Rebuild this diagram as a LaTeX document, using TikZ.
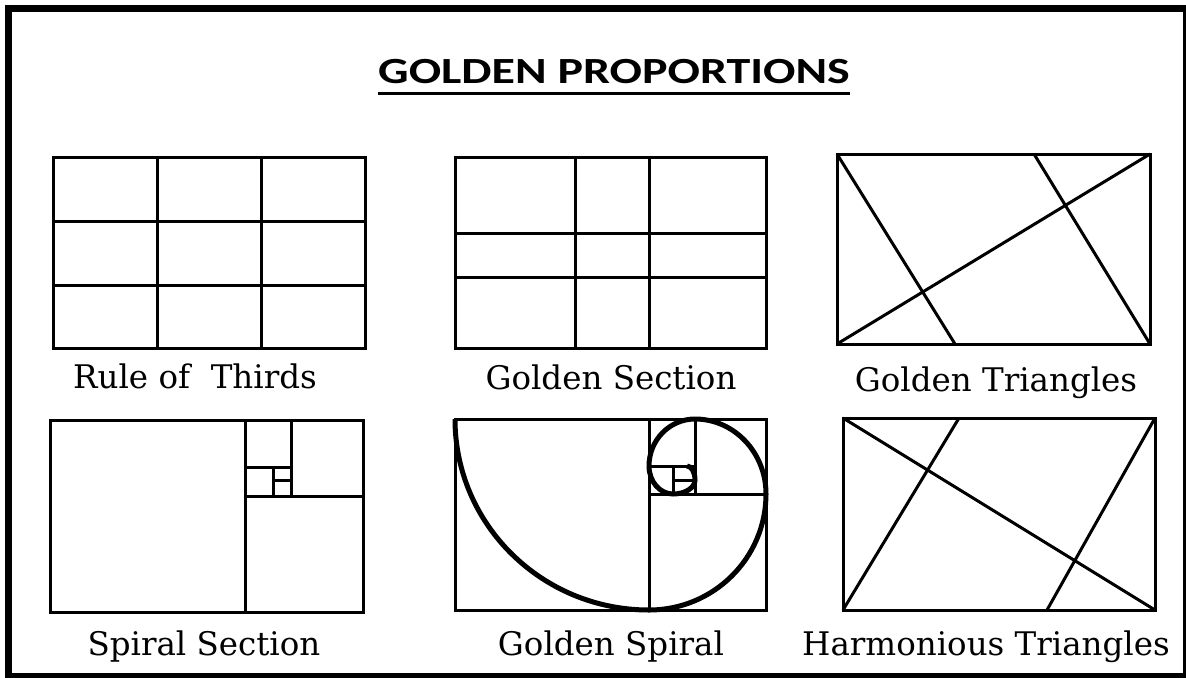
\documentclass[tikz,border=0pt]{standalone}
\usepackage{fontspec}
\setmainfont{DejaVu Serif}
\newfontfamily\titlefont{Carlito}
\usetikzlibrary{positioning, calc}
\tikzset{
	panel/.style    ={line width=0.06cm, line join=miter},
	pline/.style    ={line width=0.06cm},
	spiral/.style   ={line width=0.1cm},
	caption/.style  ={anchor=base, inner sep=0pt, font=\fontsize{18.5}{22}\selectfont},
	heading/.style  ={anchor=base, inner sep=0pt, font=\titlefont\bfseries\fontsize{21}{24}\selectfont},
}
% golden subdivision of a w x h frame, squares taken from the left
\newcommand{\phisplit}[6]{%
	\draw[pline] (#1,0) -- (#1,191);
	\draw[pline] (#1,#2) -- (312,#2);
	\draw[pline] (#3,0) -- (#3,#2);
	\draw[pline] (#1,#4) -- (#3,#4);
	\draw[pline] (#5,#4) -- (#5,#2);
	\draw[pline] (#5,#6) -- (#3,#6);}

\begin{document}
\begin{tikzpicture}[x=0.02cm, y=-0.02cm]
	\useasboundingbox (0,0) rectangle (1186,677);
	\clip (0,0) rectangle (1186,677);
	\draw[line width=0.14cm] (8.5,8.5) rectangle (1186.5,676.5);
	% ---------------- title ----------------
	\node[heading] (title) at (614,83) {\scalebox{1.3}[1]{GOLDEN PROPORTIONS}};
	\draw[line width=0.06cm] ([yshift=-0.2cm]title.base west) -- ([yshift=-0.2cm]title.base east);
	% ---------------- Rule of Thirds ----------------
	\begin{scope}[shift={(53,157)}]
		\draw[panel] (0,0) rectangle (312,191);
		\draw[pline] (104,0) -- (104,191);
		\draw[pline] (208,0) -- (208,191);
		\draw[pline] (0,64) -- (312,64);
		\draw[pline] (0,128) -- (312,128);
		\node[caption] (lblThirds) at (142,231) {Rule of\ \ Thirds};
	\end{scope}
	% ---------------- Golden Section ----------------
	\begin{scope}[shift={(455,157)}]
		\draw[panel] (0,0) rectangle (311,191);
		\draw[pline] (120,0) -- (120,191);
		\draw[pline] (194,0) -- (194,191);
		\draw[pline] (0,76) -- (311,76);
		\draw[pline] (0,120) -- (311,120);
		\node[caption] (lblSection) at (156,232) {Golden Section};
	\end{scope}
	% ---------------- Golden Triangles ----------------
	\begin{scope}[shift={(837,154)}]
		\draw[panel] (0,0) rectangle (313,190);
		\draw[pline] (0,0) -- (118,190);
		\draw[pline] (0,190) -- (313,0);
		\draw[pline] (197,0) -- (313,190);
		\node[caption] (lblTriangles) at (159,237) {Golden Triangles};
	\end{scope}
	% ---------------- Spiral Section ----------------
	\begin{scope}[shift={(50,420)}]
		\draw[panel] (0,0) rectangle (313,192);
		\phisplit{195}{76}{241}{47}{223}{60}
		\node[caption] (lblSpiralSec) at (154,235) {Spiral Section};
	\end{scope}
	% ---------------- Golden Spiral ----------------
	\begin{scope}[shift={(455,419)}]
		\draw[panel] (0,0) rectangle (311,191);
		\phisplit{194}{75}{240}{47}{218}{61}
		\draw[spiral] (0,0) arc[start angle=180, end angle=90, x radius=194, y radius=191]
			arc[start angle=90, end angle=0, x radius=117, y radius=116]
			arc[start angle=0, end angle=-90, x radius=71, y radius=75]
			arc[start angle=-90, end angle=-180, x radius=46, y radius=47]
			arc[start angle=180, end angle=90, x radius=24, y radius=28]
			arc[start angle=90, end angle=0, x radius=22, y radius=14]
			arc[start angle=0, end angle=-90, x radius=8, y radius=14];
		\node[caption] (lblSpiral) at (156,236) {Golden Spiral};
	\end{scope}
	% ---------------- Harmonious Triangles ----------------
	\begin{scope}[shift={(843,418)}]
		\draw[panel] (0,0) rectangle (312,192);
		\draw[pline] (0,0) -- (312,192);
		\draw[pline] (116,0) -- (0,192);
		\draw[pline] (312,0) -- (204,192);
		\node[caption] (lblHarmonic) at (143,237) {Harmonious Triangles};
	\end{scope}
\end{tikzpicture}
\end{document}
